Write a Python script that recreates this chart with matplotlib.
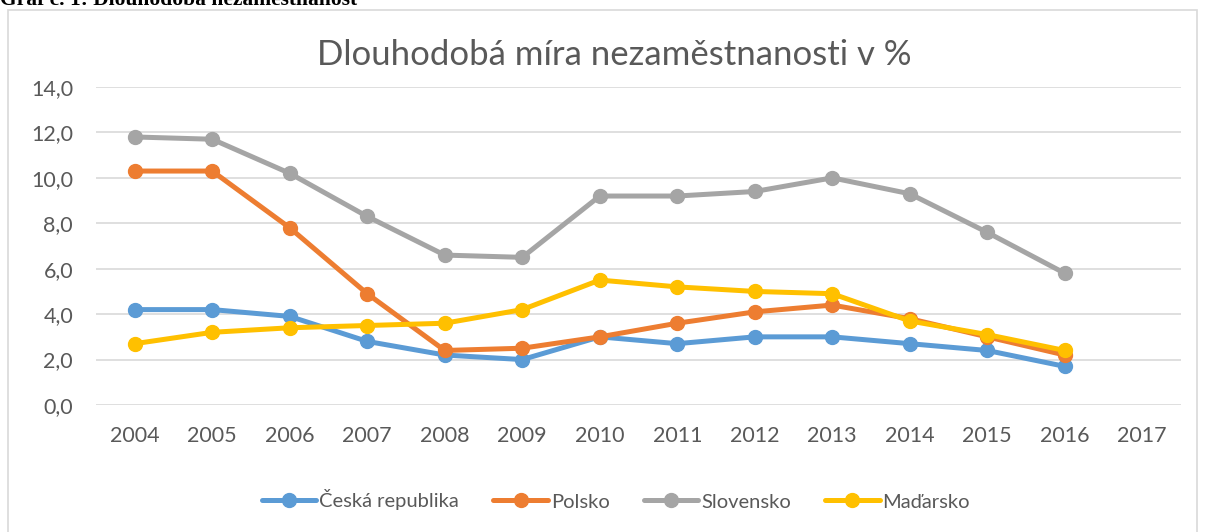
import matplotlib
matplotlib.use("Agg")
import matplotlib.pyplot as plt
import matplotlib.patches as mpatches

plt.rcParams['font.family'] = ['Lato', 'DejaVu Sans']

# Data
years = ['2004', '2005', '2006', '2007', '2008', '2009', '2010',
         '2011', '2012', '2013', '2014', '2015', '2016', '2017']
cesko = [4.2, 4.2, 3.9, 2.8, 2.2, 2.0, 3.0, 2.7, 3.0, 3.0, 2.7, 2.4, 1.7]
polsko = [10.3, 10.3, 7.8, 4.9, 2.4, 2.5, 3.0, 3.6, 4.1, 4.4, 3.8, 3.0, 2.2]
slovensko = [11.8, 11.7, 10.2, 8.3, 6.6, 6.5, 9.2, 9.2, 9.4, 10.0, 9.3, 7.6, 5.8]
madarsko = [2.7, 3.2, 3.4, 3.5, 3.6, 4.2, 5.5, 5.2, 5.0, 4.9, 3.7, 3.1, 2.4]
y_ticks = [0, 2, 4, 6, 8, 10, 12, 14]

series = [
    ('Česká republika', cesko, '#5B9BD5'),
    ('Polsko', polsko, '#ED7D31'),
    ('Slovensko', slovensko, '#A5A5A5'),
    ('Maďarsko', madarsko, '#FFC000'),
]

fig = plt.figure(figsize=(12.06, 5.32), dpi=100)

# Heading above the chart box (cut off at the top in the original too)
fig.text(0.0, 1 - 5/532, 'Graf č. 1: Dlouhodobá nezaměstnanost', family='Liberation Serif',
         weight='bold', fontsize=15.5, va='baseline', ha='left')

# Chart border
fig.patches.append(mpatches.Rectangle((8/1206, -0.01), 1189/1206, 1 - 10/532 + 0.01,
                                      transform=fig.transFigure, fill=False,
                                      edgecolor='#D9D9D9', linewidth=1.2))

ax = fig.add_axes([96/1206, 1 - 405/532, 1085/1206, 318/532])

x = list(range(len(years)))
for name, vals, col in series:
    ax.plot(x[:len(vals)], vals, color=col, linewidth=3.6, marker='o',
            markersize=10, label=name, solid_capstyle='round', zorder=3)

ax.set_xlim(-0.5, len(years) - 0.5)
ax.set_ylim(0, 14)
ax.set_xticks(x)
ax.set_xticklabels(years)
ax.set_yticks(y_ticks)
ax.set_yticklabels([f'{v:.1f}'.replace('.', ',') for v in y_ticks])
ax.tick_params(axis='both', length=0, labelsize=15.5, colors='#595959')
ax.tick_params(axis='x', pad=15)
ax.tick_params(axis='y', pad=16.5)
ax.grid(axis='y', color='#D9D9D9', linewidth=1.2)
ax.set_axisbelow(True)
for s in ax.spines.values():
    s.set_visible(False)

fig.text(614/1206, 1 - 55/532, 'Dlouhodobá míra nezaměstnanosti v %', ha='center', va='center',
         fontsize=25, color='#595959')

leg = fig.legend(loc='center', bbox_to_anchor=(616/1206, 1 - 500/532), ncol=4, frameon=False,
                 fontsize=14.5, handlelength=2.7, columnspacing=1.7, handletextpad=0.15)
for t in leg.get_texts():
    t.set_color('#595959')

fig.savefig('out.png', dpi=100)
